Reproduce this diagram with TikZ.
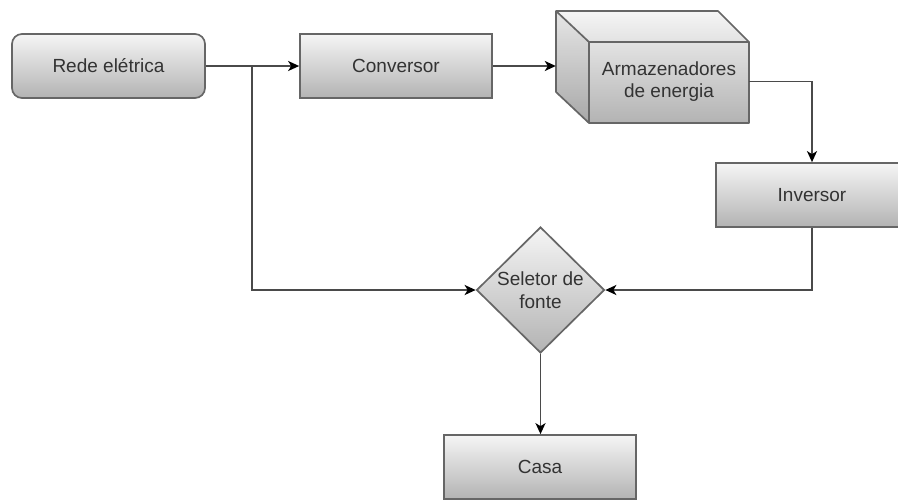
\documentclass[tikz,border=0pt]{standalone}
\usepackage{fontspec}
\setmainfont{Liberation Sans}
\usetikzlibrary{arrows.meta,shapes.geometric}
\definecolor{strk}{HTML}{666666}
\definecolor{txt}{HTML}{333333}
\definecolor{gtop}{HTML}{F5F5F5}
\definecolor{gbot}{HTML}{B3B3B3}
\definecolor{edgec}{HTML}{4A4A4A}
\begin{document}
\begin{tikzpicture}[x=1pt,y=-1pt,
 lbl/.style={text=txt, font=\fontsize{19}{22.5}\selectfont, align=center, inner sep=0pt},
 box/.style={lbl, draw=strk, line width=1.7pt, top color=gtop, bottom color=gbot, minimum width=192pt, minimum height=64pt},
 conn/.style={draw=edgec, line width=1.8pt, -{Stealth[length=11pt,width=10pt,inset=3pt,color=black]}},
 cubeline/.style={draw=strk, line width=1.7pt, line join=round}
]
\useasboundingbox (0,0) rectangle (898,499);

% nodes
\node[box, rounded corners=10pt, minimum width=193pt] (rede) at (108.5,66) {Rede elétrica};
\node[box] (conv) at (396,66) {Conversor};

% cube (Armazenadores de energia)
\node[inner sep=0pt, minimum width=193pt, minimum height=112pt] (armbox) at (652.5,67) {};
\path[top color=gtop, bottom color=gbot] (556,11) -- (718,11) -- (749,42) -- (749,123) -- (589,123) -- (556,92) -- cycle;
\fill[black, opacity=0.06] (556,11) -- (589,42) -- (589,123) -- (556,92) -- cycle;
\draw[cubeline] (556,11) -- (718,11) -- (749,42) -- (749,123) -- (589,123) -- (556,92) -- cycle;
\draw[cubeline] (556,11) -- (589,42) -- (749,42);
\draw[cubeline] (589,42) -- (589,123);
\node[lbl, minimum width=160pt, minimum height=81pt] (arm) at (669,81.5) {Armazenadores\\de energia};

\node[box] (inv) at (812,195) {Inversor};

\node[diamond, draw=strk, line width=1.7pt, top color=gtop, bottom color=gbot, minimum width=128pt, minimum height=126pt, inner sep=0pt] (sel) at (540.5,290) {};
\node[lbl] (seltxt) at (540.5,290) {Seletor de\\fonte};

\node[box] (casa) at (540,467) {Casa};

% connectors
\coordinate (br) at (252,66);
\draw[conn] (rede.east) -- (conv.west);
\draw[conn] (rede.east) -- (br) |- (sel.west);
\draw[conn] (conv.east) -- (conv.east -| armbox.west);
\draw[conn] (arm.east) -| (inv.north);
\draw[conn] (inv.south) |- (sel.east);
\draw[conn] (sel.south) -- (sel.south |- casa.north);
\end{tikzpicture}
\end{document}
